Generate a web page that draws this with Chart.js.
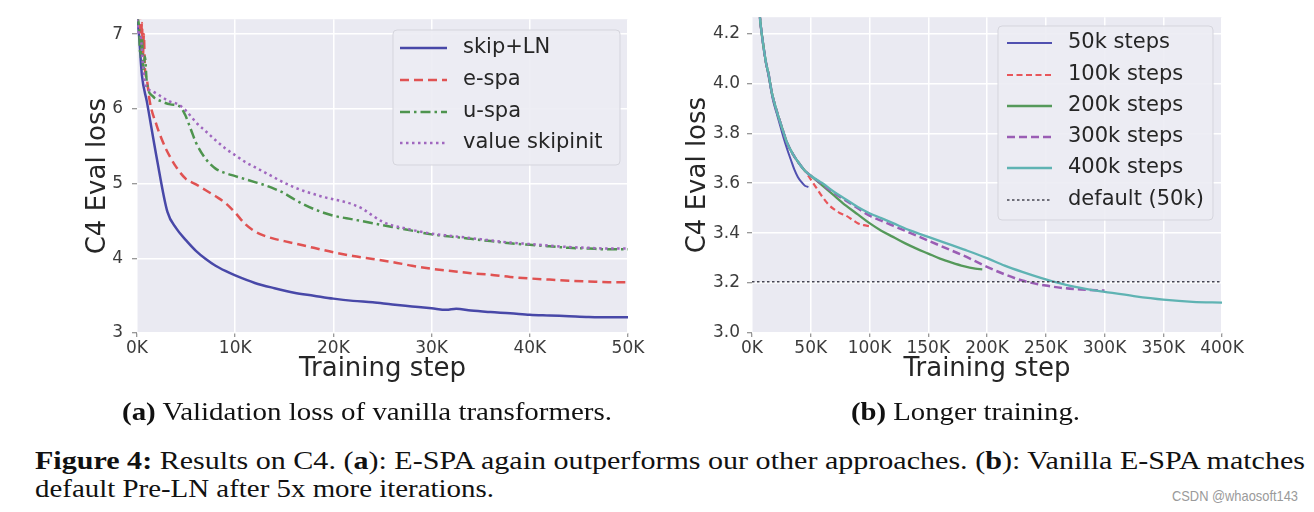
<!DOCTYPE html>
<html><head><meta charset="utf-8">
<script src="https://cdn.jsdelivr.net/npm/chart.js@4.4.1/dist/chart.umd.min.js"></script>
<style>
html,body{margin:0;padding:0;background:#fff;width:1314px;height:512px;overflow:hidden;position:relative;}
#wl{position:absolute;left:0;top:0;width:660px;height:400px;}
#wr{position:absolute;left:660px;top:0;width:654px;height:400px;}
.t{position:absolute;white-space:nowrap;font-family:'Liberation Serif','Times New Roman',Times,serif;font-size:25px;line-height:25px;color:#111;transform-origin:0 0;}
.wm{position:absolute;white-space:nowrap;font-family:'Liberation Sans','DejaVu Sans',sans-serif;font-size:15px;line-height:15px;color:#9a9a9a;transform-origin:0 0;}
</style></head><body>
<div id="wl"><canvas id="left"></canvas></div>
<div id="wr"><canvas id="right"></canvas></div>
<div class="t fit" data-w="490" style="left:122px;top:399px"><b>(a)</b> Validation loss of vanilla transformers.</div>
<div class="t fit" data-w="229" style="left:851px;top:399px"><b>(b)</b> Longer training.</div>
<div class="t fit" data-w="1270" style="left:35px;top:448px"><b>Figure 4:</b> Results on C4. (<b>a</b>): E-SPA again outperforms our other approaches. (<b>b</b>): Vanilla E-SPA matches</div>
<div class="t fit" data-w="459" style="left:35px;top:476px">default Pre-LN after 5x more iterations.</div>
<div class="wm fit" data-w="126" style="left:1172px;top:488px">CSDN @whaosoft143</div>
<script>
// ---------- Left panel data (steps in K) ----------
const leftSeriesNames = ['skip+LN', 'e-spa', 'u-spa', 'value skipinit'];
const skipLnSteps = [0,0.2,0.5,1,2,3.1,4,5,6,7,8,9,10,12,14,16,18,20,22,24,26,28,30,31.5,32.5,34,36,38,40,42,44,46,48,50];
const skipLnLoss  = [7.25,7.0,6.45,6.1,5.35,4.62,4.4,4.24,4.1,3.99,3.9,3.83,3.77,3.67,3.6,3.54,3.5,3.46,3.43,3.41,3.38,3.355,3.33,3.31,3.325,3.3,3.28,3.265,3.245,3.235,3.225,3.215,3.21,3.21];
const eSpaSteps = [0,0.3,0.4,0.5,0.6,0.7,0.8,1.0,1.3,2,2.5,3,4,5,6,7,8,9,10,11,12,13,14,15,16,18,20,22,24,26,28,30,32,34,36,38,40,42,44,46,48,50];
const eSpaLoss  = [7.3,7.25,6.9,7.15,6.7,7.0,6.55,6.4,6.1,5.78,5.6,5.45,5.22,5.06,4.99,4.91,4.83,4.74,4.61,4.46,4.36,4.3,4.26,4.23,4.2,4.14,4.08,4.03,3.99,3.95,3.9,3.86,3.83,3.8,3.78,3.75,3.73,3.715,3.7,3.69,3.68,3.68];
const uSpaSteps = [0,0.2,0.35,0.5,0.65,0.8,1,1.6,2.5,3.4,4.4,4.9,5.5,6,7,8,9,10,11,12,13,14,15,16,17,18,19,20,22,24,26,28,30,32,34,36,38,40,42,44,46,48,50];
const uSpaLoss  = [7.25,7.1,6.7,6.95,6.5,6.7,6.35,6.17,6.1,6.06,6.03,5.92,5.72,5.55,5.33,5.2,5.14,5.1,5.06,5.02,4.98,4.93,4.87,4.79,4.72,4.66,4.61,4.57,4.52,4.47,4.42,4.37,4.32,4.29,4.26,4.23,4.2,4.18,4.16,4.14,4.13,4.12,4.12];
const valueSkipSteps = [0,0.2,0.4,0.6,0.9,1.5,2.4,3.3,4.2,5.1,6,7,8,9,10,11,12,13,14,15,16,17,18,19,20,21,22,23,24,25,26,27,28,30,32,34,36,38,40,42,44,46,48,50];
const valueSkipLoss  = [7.2,7.0,6.95,6.6,6.31,6.24,6.17,6.1,6.06,5.96,5.82,5.7,5.58,5.47,5.38,5.29,5.22,5.15,5.08,5.01,4.95,4.9,4.86,4.82,4.79,4.76,4.72,4.66,4.57,4.49,4.44,4.41,4.38,4.33,4.3,4.27,4.24,4.21,4.19,4.17,4.15,4.14,4.13,4.13];
const leftXTicks = [0,10,20,30,40,50];
const leftXTickLabels = ['0K','10K','20K','30K','40K','50K'];
const leftYTicks = [3,4,5,6,7];
const leftYTickLabels = ['3','4','5','6','7'];

// ---------- Right panel data (steps in K) ----------
const rightSeriesNames = ['50k steps','100k steps','200k steps','300k steps','400k steps','default (50k)'];
const steps50k = [4,5,6.7,8,10,12,14,18,21,24,27,30,33,36,39,42,45,48];
const loss50k  = [4.62,4.45,4.27,4.21,4.14,4.08,4.03,3.93,3.88,3.83,3.78,3.735,3.695,3.655,3.625,3.605,3.59,3.585];
const steps100k = [4,5,6.7,8,10,12,14,17,21,25,30,35,40,45,50,55,60,65,70,75,80,85,90,95,100];
const loss100k  = [4.62,4.45,4.27,4.21,4.14,4.08,4.04,3.96,3.89,3.83,3.76,3.715,3.68,3.65,3.615,3.58,3.545,3.515,3.495,3.48,3.47,3.455,3.44,3.432,3.428];
const steps200k = [4,5,6.7,8,10,12,14,17,21,25,30,35,40,45,50,55,60,70,80,90,100,110,120,130,140,150,160,170,180,190,196];
const loss200k  = [4.62,4.45,4.27,4.21,4.14,4.08,4.04,3.96,3.89,3.83,3.76,3.715,3.68,3.65,3.63,3.61,3.59,3.55,3.51,3.475,3.44,3.41,3.385,3.36,3.338,3.318,3.298,3.282,3.268,3.258,3.255];
const steps300k = [4,5,6.7,8,10,12,14,17,21,25,30,35,40,45,50,60,70,80,90,100,110,120,135,150,165,180,200,215,230,250,265,280,300];
const loss300k  = [4.62,4.45,4.27,4.21,4.14,4.08,4.04,3.96,3.89,3.83,3.76,3.715,3.68,3.65,3.63,3.595,3.56,3.53,3.5,3.47,3.45,3.43,3.40,3.37,3.34,3.31,3.265,3.235,3.21,3.19,3.18,3.174,3.17];
const steps400k = [4,5,6.7,8,10,12,14,17,21,25,30,35,40,45,50,60,70,80,90,100,110,120,135,150,165,180,200,215,230,250,270,290,300,325,350,375,400];
const loss400k  = [4.62,4.45,4.27,4.21,4.14,4.08,4.04,3.96,3.89,3.83,3.76,3.715,3.68,3.65,3.63,3.6,3.565,3.535,3.505,3.48,3.46,3.44,3.41,3.385,3.36,3.335,3.30,3.27,3.245,3.215,3.19,3.172,3.165,3.148,3.134,3.125,3.122];
const defaultSteps = [0,400];
const defaultLoss  = [3.205,3.205];
const rightXTicks = [0,50,100,150,200,250,300,350,400];
const rightXTickLabels = ['0K','50K','100K','150K','200K','250K','300K','350K','400K'];
const rightYTicks = [3.0,3.2,3.4,3.6,3.8,4.0,4.2];
const rightYTickLabels = ['3.0','3.2','3.4','3.6','3.8','4.0','4.2'];

// ---------- helpers ----------
const pts = (xs, ys) => xs.map((x, i) => ({x: x, y: ys[i]}));
Chart.defaults.font.family = "'DejaVu Sans', sans-serif";

const bgPlugin = {
  id: 'plotBg',
  beforeDraw(chart) {
    const {ctx, chartArea: a} = chart;
    ctx.save();
    ctx.fillStyle = '#EAEAF2';
    ctx.fillRect(a.left, a.top, a.right - a.left, a.bottom - a.top);
    ctx.restore();
  }
};
const legendPlugin = {
  id: 'boxLegend',
  afterDraw(chart, args, o) {
    const ctx = chart.ctx;
    ctx.save();
    ctx.beginPath();
    ctx.roundRect(o.box[0], o.box[1], o.box[2], o.box[3], 4);
    ctx.fillStyle = 'rgba(236,236,243,0.9)';
    ctx.fill();
    ctx.strokeStyle = '#d5d5dd';
    ctx.lineWidth = 1;
    ctx.stroke();
    chart.data.datasets.forEach((ds, i) => {
      const y = o.rows[i];
      ctx.beginPath();
      ctx.setLineDash(ds.borderDash || []);
      ctx.strokeStyle = ds.borderColor;
      ctx.lineWidth = ds.borderWidth;
      ctx.moveTo(o.sample[0], y);
      ctx.lineTo(o.sample[1], y);
      ctx.stroke();
      ctx.setLineDash([]);
      ctx.fillStyle = '#262626';
      ctx.font = "21px 'DejaVu Sans'";
      ctx.textBaseline = 'middle';
      ctx.textAlign = 'left';
      ctx.fillText(ds.label, o.textX, y);
    });
    ctx.restore();
  }
};

function makeScales(xMin, xMax, xTicks, xLabels, yMin, yMax, yTicks, yLabels, yAxisW, xAxisH, yTitlePad, yLabelPad) {
  return {
    x: {
      type: 'linear', min: xMin, max: xMax,
      afterBuildTicks: s => { s.ticks = xTicks.map(v => ({value: v})); },
      afterFit: s => { s.height = xAxisH; },
      ticks: {callback: (v, i) => xLabels[i], font: {size: 17}, color: '#3c3c3c', padding: 1, maxRotation: 0, autoSkip: false},
      grid: {color: '#ffffff', lineWidth: 1.5, drawTicks: true, tickLength: 4, tickColor: '#777', tickWidth: 1},
      border: {display: false},
      title: {display: true, text: 'Training step', font: {size: 26}, color: '#262626', padding: {top: 0, bottom: 15}}
    },
    y: {
      type: 'linear', min: yMin, max: yMax,
      afterBuildTicks: s => { s.ticks = yTicks.map(v => ({value: v})); },
      afterFit: s => { s.width = yAxisW; },
      ticks: {callback: (v, i) => yLabels[i], font: {size: 17}, color: '#3c3c3c', padding: yLabelPad, autoSkip: false},
      grid: {color: '#ffffff', lineWidth: 1.5, drawTicks: true, tickLength: 5, tickColor: '#777', tickWidth: 1},
      border: {display: false},
      title: {display: true, text: 'C4 Eval loss', font: {size: 26}, color: '#262626', padding: {top: yTitlePad, bottom: 0}}
    }
  };
}
const lineDefaults = {pointRadius: 0, fill: false, cubicInterpolationMode: 'monotone', borderCapStyle: 'butt'};

new Chart(document.getElementById('left'), {
  type: 'line',
  data: {datasets: [
    {...lineDefaults, label: leftSeriesNames[0], data: pts(skipLnSteps, skipLnLoss), borderColor: '#4848a8', borderWidth: 2.5, order: 4},
    {...lineDefaults, label: leftSeriesNames[1], data: pts(eSpaSteps, eSpaLoss), borderColor: '#e05252', borderWidth: 2.5, borderDash: [9, 5], order: 3},
    {...lineDefaults, label: leftSeriesNames[2], data: pts(uSpaSteps, uSpaLoss), borderColor: '#4e944e', borderWidth: 2.5, borderDash: [10, 4, 2.5, 4], order: 2},
    {...lineDefaults, label: leftSeriesNames[3], data: pts(valueSkipSteps, valueSkipLoss), borderColor: '#a067bf', borderWidth: 2.5, borderDash: [2.5, 3.5], order: 1}
  ]},
  options: {
    responsive: true, maintainAspectRatio: false, animation: false, devicePixelRatio: 1,
    layout: {padding: {top: 17, left: 0, right: 32, bottom: 0}},
    scales: makeScales(0, 50, leftXTicks, leftXTickLabels, 3, 7.2, leftYTicks, leftYTickLabels, 137, 67, 83, 9),
    plugins: {legend: {display: false}, tooltip: {enabled: false},
      boxLegend: {box: [393, 30, 227, 135], sample: [400, 447], textX: 463, rows: [48, 80, 112, 143]}}
  },
  plugins: [bgPlugin, legendPlugin]
});

new Chart(document.getElementById('right'), {
  type: 'line',
  data: {datasets: [
    {...lineDefaults, label: rightSeriesNames[0], data: pts(steps50k, loss50k), borderColor: '#5050b0', borderWidth: 2, order: 6},
    {...lineDefaults, label: rightSeriesNames[1], data: pts(steps100k, loss100k), borderColor: '#e8555a', borderWidth: 2.2, borderDash: [6, 3.5], order: 5},
    {...lineDefaults, label: rightSeriesNames[2], data: pts(steps200k, loss200k), borderColor: '#55995a', borderWidth: 2.3, order: 4},
    {...lineDefaults, label: rightSeriesNames[3], data: pts(steps300k, loss300k), borderColor: '#9a5db4', borderWidth: 2.5, borderDash: [8, 4], order: 3},
    {...lineDefaults, label: rightSeriesNames[4], data: pts(steps400k, loss400k), borderColor: '#5fb3b3', borderWidth: 2.3, order: 2},
    {...lineDefaults, label: rightSeriesNames[5], data: pts(defaultSteps, defaultLoss), borderColor: '#454552', borderWidth: 1.4, borderDash: [2.5, 2.5], order: 1, cubicInterpolationMode: 'default', tension: 0}
  ]},
  options: {
    responsive: true, maintainAspectRatio: false, animation: false, devicePixelRatio: 1,
    layout: {padding: {top: 15, left: 0, right: 92, bottom: 0}},
    scales: makeScales(0, 400, rightXTicks, rightXTickLabels, 3.0, 4.265, rightYTicks, rightYTickLabels, 92, 67, 23, 7),
    plugins: {legend: {display: false}, tooltip: {enabled: false},
      boxLegend: {box: [338, 26, 215, 194], sample: [347, 392], textX: 408, rows: [43, 75, 106, 137, 168, 200]}}
  },
  plugins: [bgPlugin, legendPlugin]
});

document.querySelectorAll('.fit').forEach(el => {
  const w = el.getBoundingClientRect().width;
  el.style.transform = 'scaleX(' + (parseFloat(el.dataset.w) / w) + ')';
});
</script>
</body></html>
